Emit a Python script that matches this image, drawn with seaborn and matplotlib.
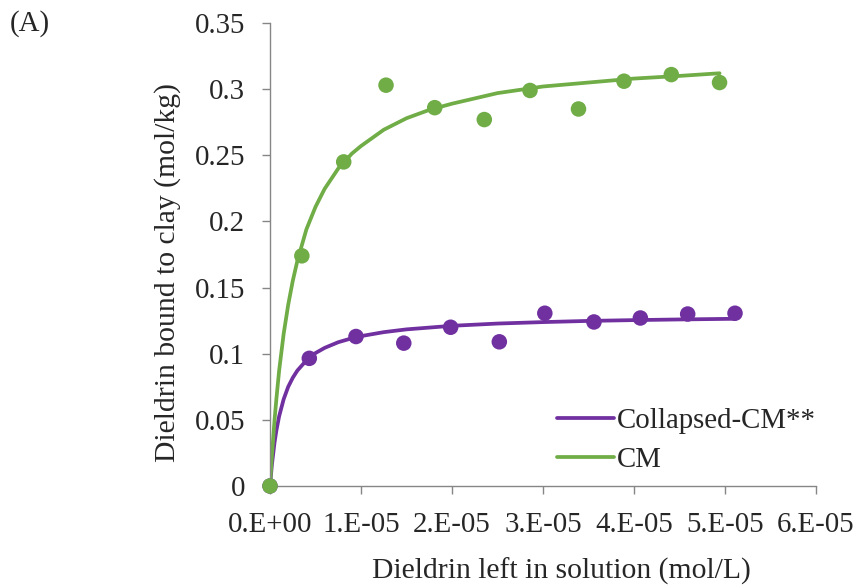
import matplotlib
matplotlib.use("Agg")
import matplotlib.pyplot as plt
import seaborn as sns
import pandas as pd

# Measured points (x in mol/L, y in mol/kg)
cm_x = [0.0, 0.35e-5, 0.81e-5, 1.275e-5, 1.81e-5, 2.355e-5, 2.857e-5, 3.39e-5, 3.89e-5, 4.41e-5, 4.94e-5]
cm_y = [0.0, 0.174, 0.245, 0.303, 0.286, 0.277, 0.299, 0.285, 0.306, 0.311, 0.305]
col_x = [0.0, 0.432e-5, 0.945e-5, 1.47e-5, 1.985e-5, 2.52e-5, 3.02e-5, 3.56e-5, 4.07e-5, 4.59e-5, 5.11e-5]
col_y = [0.0, 0.0965, 0.113, 0.108, 0.120, 0.109, 0.1306, 0.124, 0.127, 0.130, 0.1306]

# Fitted curves
cm_fit_x = [0, 0.02e-5, 0.05e-5, 0.07e-5, 0.1e-5, 0.15e-5, 0.2e-5, 0.25e-5, 0.3e-5, 0.4e-5, 0.5e-5,
            0.6e-5, 0.75e-5, 0.9e-5, 1.0e-5, 1.25e-5, 1.5e-5, 1.75e-5, 2.0e-5, 2.5e-5, 3.0e-5,
            3.5e-5, 4.0e-5, 4.5e-5, 4.94e-5]
cm_fit_y = [0, 0.022, 0.050, 0.0657, 0.087, 0.115, 0.137, 0.155, 0.170, 0.194, 0.211,
            0.2246, 0.240, 0.2513, 0.257, 0.2693, 0.278, 0.2843, 0.289, 0.297, 0.302,
            0.305, 0.308, 0.310, 0.312]
col_fit_x = [0, 0.02e-5, 0.05e-5, 0.07e-5, 0.1e-5, 0.15e-5, 0.2e-5, 0.25e-5, 0.3e-5, 0.4e-5, 0.5e-5,
             0.6e-5, 0.75e-5, 0.9e-5, 1.0e-5, 1.25e-5, 1.5e-5, 2.0e-5, 2.5e-5, 3.0e-5,
             3.5e-5, 4.0e-5, 4.5e-5, 5.11e-5]
col_fit_y = [0, 0.0156, 0.033, 0.0419, 0.0526, 0.0656, 0.075, 0.0818, 0.0872, 0.095, 0.1005,
             0.1044, 0.1087, 0.1117, 0.1133, 0.1163, 0.1184, 0.1211, 0.1228, 0.1239,
             0.1248, 0.1254, 0.1259, 0.1264]

x_ticks = [0, 1e-5, 2e-5, 3e-5, 4e-5, 5e-5, 6e-5]
x_ticklabels = ["0.E+00", "1.E-05", "2.E-05", "3.E-05", "4.E-05", "5.E-05", "6.E-05"]
y_ticks = [0, 0.05, 0.1, 0.15, 0.2, 0.25, 0.3, 0.35]
y_ticklabels = ["0", "0.05", "0.1", "0.15", "0.2", "0.25", "0.3", "0.35"]

PURPLE = "#7030A0"
GREEN = "#70AD47"
AXC = "#868686"

sns.set_style("white")
plt.rcParams["font.family"] = ["Liberation Serif", "DejaVu Serif"]
FS = 20.8

fig = plt.figure(figsize=(8.57, 5.86), dpi=100)
ax = fig.add_axes([270 / 857, 1 - 486 / 586, (816 - 270) / 857, (486 - 23) / 586])

fit = pd.concat([
    pd.DataFrame({"x": col_fit_x, "y": col_fit_y, "s": "Collapsed-CM**"}),
    pd.DataFrame({"x": cm_fit_x, "y": cm_fit_y, "s": "CM"}),
])
pts_col = pd.DataFrame({"x": col_x, "y": col_y})
pts_cm = pd.DataFrame({"x": cm_x, "y": cm_y})

sns.lineplot(data=fit, x="x", y="y", hue="s", palette=[PURPLE, GREEN], linewidth=2.7,
             sort=False, ax=ax, legend=True, zorder=2)
for ln in ax.lines:
    ln.set_solid_joinstyle("round")
    ln.set_solid_capstyle("round")
sns.scatterplot(data=pts_col, x="x", y="y", color=PURPLE, s=125, edgecolor="none",
                ax=ax, legend=False, zorder=3, clip_on=False)
sns.scatterplot(data=pts_cm, x="x", y="y", color=GREEN, s=125, edgecolor="none",
                ax=ax, legend=False, zorder=4, clip_on=False)

ax.set_xlim(0, 6e-5)
ax.set_ylim(0, 0.35)
ax.set_xticks(x_ticks)
ax.set_xticklabels(x_ticklabels, fontsize=FS)
ax.set_yticks(y_ticks)
ax.set_yticklabels(y_ticklabels, fontsize=FS)
ax.tick_params(axis="both", direction="out", length=6, width=1, color=AXC, bottom=True, left=True)
ax.tick_params(axis="y", pad=12)
ax.tick_params(axis="x", pad=13)
for side in ["top", "right"]:
    ax.spines[side].set_visible(False)
for side in ["left", "bottom"]:
    ax.spines[side].set_color(AXC)
    ax.spines[side].set_linewidth(1)

ax.set_xlabel("Dieldrin left in solution (mol/L)", fontsize=21.3)
ax.xaxis.label.set_va("center")
ax.xaxis.set_label_coords((561 - 270) / 546, (486 - 571) / 463)
ax.set_ylabel("Dieldrin bound to clay (mol/kg)", fontsize=21.3)
ax.yaxis.label.set_va("center")
ax.yaxis.set_label_coords((168 - 270) / 546, (486 - 273) / 463)

leg = ax.legend(loc="upper left", bbox_to_anchor=(545 / 857, 1 - 396 / 586),
                bbox_transform=fig.transFigure, frameon=False, fontsize=FS,
                handlelength=2.0, handletextpad=0.1, labelspacing=0.45, borderaxespad=0)
for h in leg.get_lines():
    h.set_linewidth(2.7)

fig.text(10 / 857, 1 - 24 / 586, "(A)", fontsize=FS, va="center", ha="left")

fig.savefig("out.png", dpi=100)
